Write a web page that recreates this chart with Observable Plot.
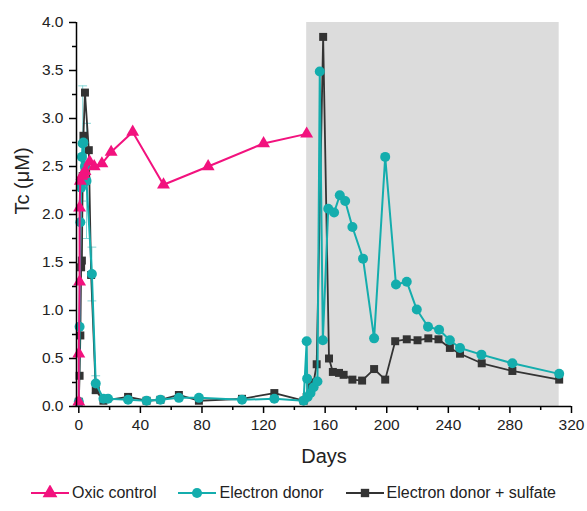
<!DOCTYPE html>
<html>
<head>
<meta charset="utf-8">
<script src="https://cdn.jsdelivr.net/npm/d3@7"></script>
<script src="https://cdn.jsdelivr.net/npm/@observablehq/plot@0.6"></script>
<style>
  html, body { margin: 0; padding: 0; background: #fff; }
  body { width: 587px; height: 511px; overflow: hidden; font-family: Arial, "Liberation Sans", sans-serif; }
  #legend { display: flex; justify-content: center; align-items: center; gap: 22px; height: 36px; font-size: 16px; color: #222; }
  #legend .item { display: flex; align-items: center; gap: 3px; }
</style>
</head>
<body>
<div id="chart"></div>
<div id="legend"></div>
<script>
// ---- Data (days, Tc µM) ----
const oxicDays = [0, 0, 0.5, 0.5, 1, 2, 3, 4, 7, 10, 15, 21, 35, 55, 84, 120, 148];
const oxicTc   = [0.05, 0.55, 1.3, 2.07, 2.35, 2.4, 2.42, 2.45, 2.55, 2.5, 2.53, 2.65, 2.86, 2.31, 2.5, 2.74, 2.84];

const donorDays = [0, 0.5, 1, 1.5, 2, 2.5, 3, 4, 5, 8.5, 11, 16, 19, 32, 44, 53, 65, 78, 106, 127, 146,
                   148, 148.3, 148.6, 150.5, 152.5, 155, 156.5, 158.5, 162, 165.8, 169.5, 173, 177.7, 184.6, 191.8, 199,
                   206, 213, 219.5, 226.8, 234, 241, 247.6, 261.5, 281.6, 312];
const donorTc   = [0.05, 0.83, 1.92, 2.28, 2.6, 2.74, 2.75, 2.5, 2.35, 1.38, 0.24, 0.08, 0.08, 0.07, 0.06, 0.07, 0.09, 0.09, 0.07, 0.08, 0.06,
                   0.68, 0.29, 0.1, 0.14, 0.2, 0.26, 3.49, 0.69, 2.06, 2.02, 2.2, 2.14, 1.87, 1.54, 0.71, 2.6,
                   1.27, 1.3, 1.01, 0.83, 0.8, 0.69, 0.61, 0.54, 0.45, 0.34];

const sulfDays = [0, 0.5, 1, 1.5, 2, 2.5, 3, 4, 6.5, 8, 11, 16, 32, 44, 53, 65, 78, 106, 127, 146,
                  148, 150.5, 152.5, 154.5, 158.7, 162.5, 165, 169, 172, 177.7, 184, 191.8, 199,
                  205.5, 213, 220, 227, 233.6, 241, 247.6, 261.7, 281.6, 312];
const sulfTc   = [0.05, 0.32, 0.74, 1.45, 1.52, 2.4, 2.82, 3.27, 2.67, 1.37, 0.17, 0.06, 0.1, 0.06, 0.07, 0.12, 0.06, 0.08, 0.14, 0.06,
                  0.1, 0.2, 0.25, 0.44, 3.85, 0.5, 0.36, 0.35, 0.33, 0.28, 0.27, 0.39, 0.28,
                  0.68, 0.7, 0.69, 0.71, 0.7, 0.61, 0.55, 0.45, 0.37, 0.28];

// error bars: [day, low, high]
const donorErrDays = [2.5, 5, 8.5, 11];
const donorErrLow  = [2.14, 1.75, 1.1, 0.14];
const donorErrHigh = [3.34, 2.95, 1.66, 0.32];
const oxicErrDays = [0];
const oxicErrLow  = [0.0];
const oxicErrHigh = [0.2];

const shadeStart = 148, shadeEnd = 312;
const xTicks = [0, 40, 80, 120, 160, 200, 240, 280, 320];
const xMinor = [20, 60, 100, 140, 180, 220, 260, 300];
const yTicks = [0, 0.5, 1, 1.5, 2, 2.5, 3, 3.5, 4];
const yMinor = [0.25, 0.75, 1.25, 1.75, 2.25, 2.75, 3.25, 3.75];
const seriesNames = ["Oxic control", "Electron donor", "Electron donor + sulfate"];
const colors = ["#f2127e", "#14adad", "#333333"];

// ---- Build tables ----
const zip = (xs, ys) => xs.map((x, i) => ({day: x, tc: ys[i]}));
const oxic = zip(oxicDays, oxicTc);
const donor = zip(donorDays, donorTc);
const sulf = zip(sulfDays, sulfTc);
const donorErr = donorErrDays.map((d, i) => ({day: d, lo: donorErrLow[i], hi: donorErrHigh[i]}));
const oxicErr = oxicErrDays.map((d, i) => ({day: d, lo: oxicErrLow[i], hi: oxicErrHigh[i]}));
const donorCaps = donorErr.flatMap(d => [{day: d.day, v: d.lo}, {day: d.day, v: d.hi}]);

// horizontal cap symbol for error bars
const capSymbol = {
  draw(context, size) {
    const w = Math.sqrt(size) / 2;
    context.moveTo(-w, 0);
    context.lineTo(w, 0);
  }
};

const chart = Plot.plot({
  width: 587,
  height: 475,
  marginLeft: 76,
  marginRight: 16,
  marginTop: 22,
  marginBottom: 69,
  style: {fontFamily: "Arial, 'Liberation Sans', sans-serif", color: "#222", background: "#fff"},
  x: {type: "linear", domain: [-1.5, 320]},
  y: {type: "linear", domain: [0, 4]},
  marks: [
    Plot.rect([{x1: shadeStart, x2: shadeEnd}], {x1: "x1", x2: "x2", y1: 0, y2: 4, fill: "#dcdcdc"}),
    // error bars
    Plot.ruleX(donorErr, {x: "day", y1: "lo", y2: "hi", stroke: "#86d6d6", strokeWidth: 1}),
    Plot.dot(donorCaps, {x: "day", y: "v", symbol: capSymbol, r: 5, stroke: "#86d6d6", strokeWidth: 1, fill: "none"}),
    Plot.ruleX(oxicErr, {x: "day", y1: "lo", y2: "hi", stroke: colors[0], strokeWidth: 1}),
    // series
    Plot.line(sulf, {x: "day", y: "tc", stroke: colors[2], strokeWidth: 1.8}),
    Plot.dot(sulf, {x: "day", y: "tc", symbol: "square", r: 4.5, fill: colors[2]}),
    Plot.line(donor, {x: "day", y: "tc", stroke: colors[1], strokeWidth: 2}),
    Plot.dot(donor, {x: "day", y: "tc", symbol: "circle", r: 5, fill: colors[1]}),
    Plot.line(oxic, {x: "day", y: "tc", stroke: colors[0], strokeWidth: 2}),
    Plot.dot(oxic, {x: "day", y: "tc", symbol: "triangle", r: 4.8, fill: colors[0]}),
    // axes
    Plot.ruleY([0], {stroke: "#000", strokeWidth: 1.5}),
    Plot.ruleX([-1.5], {stroke: "#000", strokeWidth: 1.5}),
    Plot.axisX({ticks: xTicks, tickSize: 7, tickPadding: 5, fontSize: 15.5, stroke: "#000", strokeWidth: 1.5, label: null, tickFormat: d => String(d)}),
    Plot.axisX({ticks: xMinor, tickSize: 4, stroke: "#000", strokeWidth: 1.5, label: null, tickFormat: () => ""}),
    Plot.axisY({ticks: yTicks, tickSize: 7, tickPadding: 6, fontSize: 15.5, stroke: "#000", strokeWidth: 1.5, label: null, tickFormat: d => d.toFixed(1)}),
    Plot.axisY({ticks: yMinor, tickSize: 4, stroke: "#000", strokeWidth: 1.5, label: null, tickFormat: () => ""}),
    Plot.text(["Tc (μM)"], {frameAnchor: "left", dx: -54, rotate: -90, fontSize: 20, fill: "#222"}),
    Plot.text(["Days"], {frameAnchor: "bottom", dy: 56, fontSize: 20, fill: "#222"})
  ]
});
document.getElementById("chart").appendChild(chart);

// ---- Legend ----
const symbols = ["triangle", "circle", "square"];
const legend = d3.select("#legend");
seriesNames.forEach((name, i) => {
  const item = legend.append("div").attr("class", "item");
  const svg = item.append("svg").attr("width", 38).attr("height", 16);
  svg.append("line").attr("x1", 0).attr("x2", 38).attr("y1", 8).attr("y2", 8)
    .attr("stroke", colors[i]).attr("stroke-width", 2);
  const sym = symbols[i] === "triangle" ? d3.symbolTriangle : symbols[i] === "circle" ? d3.symbolCircle : d3.symbolSquare;
  const size = symbols[i] === "triangle" ? 95 : symbols[i] === "circle" ? 80 : 70;
  svg.append("path").attr("d", d3.symbol(sym, size)()).attr("transform", "translate(19,8)").attr("fill", colors[i]);
  item.append("span").text(name);
});
</script>
</body>
</html>
